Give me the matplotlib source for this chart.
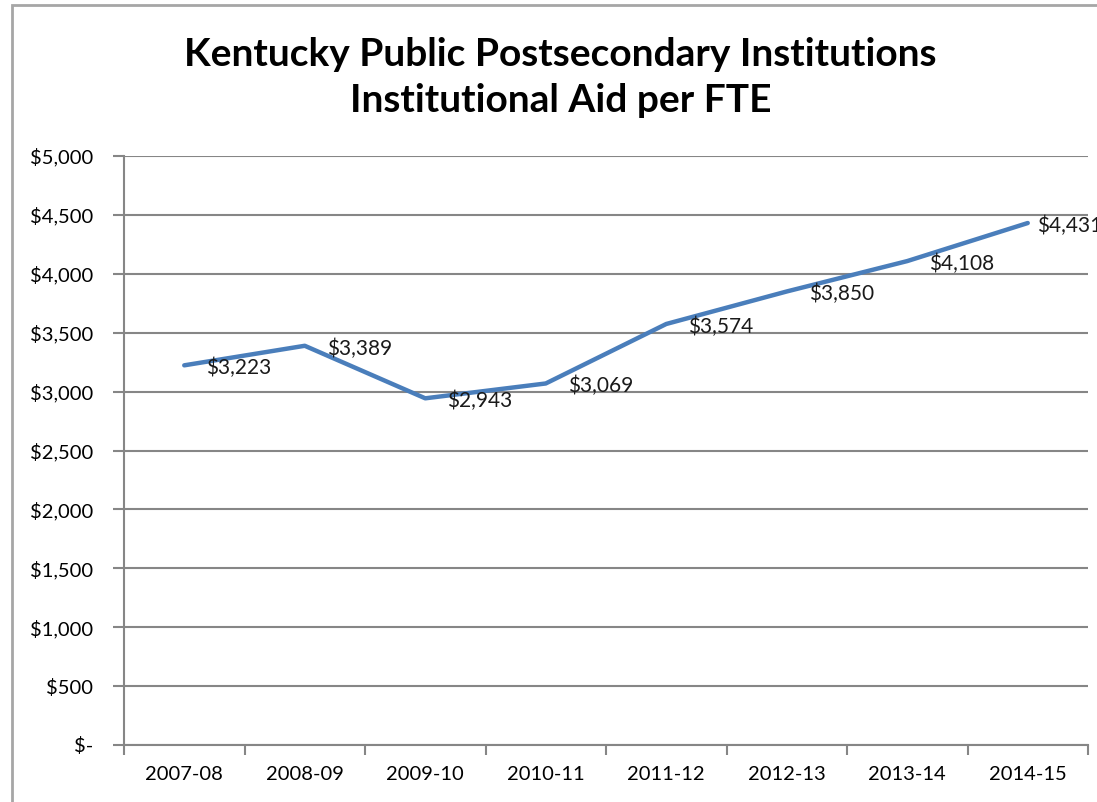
import matplotlib.pyplot as plt
from matplotlib.patches import Rectangle
from matplotlib.ticker import FuncFormatter, MultipleLocator

years = ['2007-08', '2008-09', '2009-10', '2010-11',
         '2011-12', '2012-13', '2013-14', '2014-15']
aid_per_fte = [3223, 3389, 2943, 3069, 3574, 3850, 4108, 4431]

plt.rcParams['font.family'] = ['Lato', 'DejaVu Sans']

fig = plt.figure(figsize=(10.97, 8.02), dpi=100)
ax = fig.add_axes([124 / 1097, 1 - 745 / 802, (1088 - 124) / 1097, (745 - 156) / 802])

x = list(range(len(years)))
ax.plot(x, aid_per_fte, color='#4a7ebb', lw=3.2, solid_capstyle='round', zorder=3)

for xi, v in zip(x, aid_per_fte):
    # Excel pulls the last label back toward the chart edge
    dx = 7 if xi == x[-1] else 16
    ax.annotate(f'${v:,}', (xi, v), xytext=(dx, -2), textcoords='offset points',
                ha='left', va='center', fontsize=15, color='#1a1a1a',
                annotation_clip=False)


def money(v, pos):
    if v == 0:
        return '$-'
    return f'${v:,.0f}'


ax.set_xlim(-0.5, len(years) - 0.5)
ax.set_ylim(0, 5000)
ax.yaxis.set_major_locator(MultipleLocator(500))
ax.yaxis.set_major_formatter(FuncFormatter(money))
ax.set_xticks(x)
ax.set_xticklabels(years)
ax.set_xticks([i - 0.5 for i in range(len(years) + 1)], minor=True)
ax.tick_params(axis='x', which='major', length=0, pad=15, labelsize=14.5)
ax.tick_params(axis='x', which='minor', length=7, width=1.5, color='#868686')
ax.tick_params(axis='y', length=8, width=1.5, color='#868686', pad=14, labelsize=14.5)

ax.grid(axis='y', color='#868686', lw=1.5)
ax.set_axisbelow(True)
for side in ['top', 'right']:
    ax.spines[side].set_visible(False)
for side in ['left', 'bottom']:
    ax.spines[side].set_color('#868686')
    ax.spines[side].set_linewidth(1.5)

fig.text(0.511, 1 - 54 / 802, 'Kentucky Public Postsecondary Institutions',
         ha='center', va='center', fontsize=28, fontweight='bold')
fig.text(0.511, 1 - 101 / 802, 'Institutional Aid per FTE',
         ha='center', va='center', fontsize=28, fontweight='bold')

# chart area border (partly cut off at right and bottom)
fig.patches.append(Rectangle((12 / 1097, -0.1), 1.2, 1 - 5 / 802 + 0.1,
                             transform=fig.transFigure, fill=False,
                             edgecolor='#a6a6a6', lw=2))

fig.savefig('out.png', dpi=100)
